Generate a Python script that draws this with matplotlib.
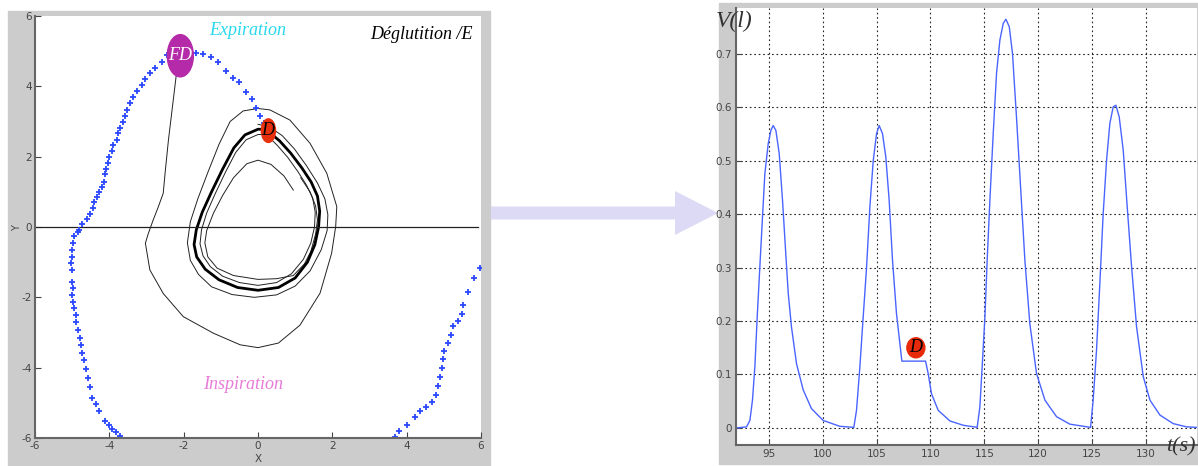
import numpy as np
import matplotlib.pyplot as plt
from matplotlib.patches import Rectangle, Ellipse, FancyArrow

plt.rcParams['axes.unicode_minus'] = False
plt.rcParams['font.family'] = ['Liberation Sans Narrow', 'DejaVu Sans']

# ---- left panel: phase plane ----
# blue "+" points (left and right branches)
pts_left_x = [-3.71, -3.82, -3.92, -4.0, -4.11, -4.27, -4.37, -4.47, -4.52, -4.57, -4.62, -4.67,
              -4.73, -4.75, -4.80, -4.83, -4.90, -4.90, -4.94, -4.99, -5.0, -4.99, -5.0, -5.01,
              -5.03, -5.01, -5.0, -4.99, -4.94, -4.83, -4.81, -4.74, -4.61, -4.52, -4.45, -4.40,
              -4.34, -4.27, -4.21, -4.14, -4.12, -4.09, -4.03, -4.0, -3.94, -3.89, -3.80, -3.76,
              -3.71, -3.64, -3.58, -3.53, -3.44, -3.35, -3.26, -3.13, -3.04, -2.91, -2.77, -2.59,
              -2.46, -2.28, -2.05, -1.87, -1.68, -1.49, -1.27, -1.07, -0.86, -0.66, -0.50, -0.33,
              -0.17, -0.05, 0.06, 0.16]
pts_left_y = [-5.94, -5.84, -5.73, -5.63, -5.52, -5.23, -5.04, -4.85, -4.54, -4.30, -4.05, -3.78,
              -3.57, -3.36, -3.15, -2.93, -2.71, -2.50, -2.31, -2.14, -1.93, -1.74, -1.55, -1.22,
              -1.03, -0.84, -0.65, -0.45, -0.26, -0.13, -0.08, 0.09, 0.23, 0.37, 0.53, 0.70,
              0.86, 1.0, 1.15, 1.29, 1.51, 1.65, 1.81, 2.0, 2.16, 2.33, 2.47, 2.66,
              2.82, 3.0, 3.16, 3.33, 3.52, 3.69, 3.88, 4.04, 4.21, 4.37, 4.51, 4.70,
              4.89, 4.94, 4.96, 4.99, 4.94, 4.91, 4.82, 4.68, 4.44, 4.23, 4.13, 3.85,
              3.64, 3.37, 3.16, 2.95]
pts_right_x = [3.69, 3.80, 4.02, 4.22, 4.36, 4.52, 4.67, 4.79, 4.85, 4.91, 4.95, 4.98, 5.01,
               5.12, 5.18, 5.24, 5.39, 5.48, 5.52, 5.66, 5.81, 5.97]
pts_right_y = [-5.96, -5.80, -5.63, -5.41, -5.22, -5.11, -4.99, -4.78, -4.52, -4.27, -4.02, -3.76,
               -3.52, -3.31, -3.07, -2.81, -2.67, -2.47, -2.23, -1.86, -1.44, -1.17]

# trajectory from FD down and around
big_x = [-2.12, -2.14, -2.28, -2.41, -2.50, -2.55, -2.68, -2.82, -2.95, -3.03, -2.91, -2.55,
         -2.01, -1.20, -0.48, 0.0, 0.55, 1.13, 1.67, 1.98, 2.09, 2.12, 1.85, 1.40, 0.86, 0.32,
         0.0, -0.40, -0.75, -1.05, -1.35, -1.62, -1.82, -1.9, -1.82, -1.6, -1.25, -0.7, -0.1,
         0.5, 1.0, 1.4, 1.7, 1.86, 1.88, 1.8, 1.6, 1.3, 0.98, 0.65, 0.3, 0.0]
big_y = [4.94, 4.84, 3.61, 2.47, 1.53, 0.96, 0.58, 0.20, -0.18, -0.46, -1.22, -1.89,
         -2.55, -3.02, -3.35, -3.43, -3.30, -2.79, -1.88, -0.75, 0.01, 0.58, 1.53, 2.38, 3.04, 3.33,
         3.37, 3.3, 3.0, 2.35, 1.55, 0.8, 0.15, -0.45, -0.95, -1.35, -1.7, -1.92, -2.0,
         -1.93, -1.68, -1.25, -0.65, -0.1, 0.35, 0.8, 1.25, 1.75, 2.22, 2.6, 2.85, 2.92]

# limit cycle (thick)
ring_x = [0.25, 0.0, -0.35, -0.65, -0.95, -1.25, -1.5, -1.66, -1.72, -1.65, -1.42, -1.05, -0.55,
          0.0, 0.55, 1.0, 1.33, 1.53, 1.63, 1.66, 1.6, 1.43, 1.18, 0.88, 0.58, 0.32, 0.25]
ring_y = [2.78, 2.78, 2.62, 2.25, 1.65, 1.0, 0.42, -0.08, -0.5, -0.85, -1.2, -1.5, -1.72,
          -1.8, -1.72, -1.45, -1.0, -0.5, 0.0, 0.45, 0.88, 1.28, 1.68, 2.1, 2.45, 2.68, 2.78]

# ring just inside
mid_x = [0.2, 0.0, -0.32, -0.6, -0.88, -1.15, -1.38, -1.52, -1.56, -1.48, -1.28, -0.95, -0.5,
         0.0, 0.5, 0.9, 1.22, 1.42, 1.52, 1.54, 1.47, 1.3, 1.07, 0.8, 0.52, 0.3, 0.2]
mid_y = [2.63, 2.63, 2.48, 2.12, 1.55, 0.95, 0.4, -0.08, -0.48, -0.82, -1.13, -1.4, -1.58,
         -1.66, -1.58, -1.33, -0.92, -0.46, 0.0, 0.42, 0.83, 1.2, 1.58, 1.98, 2.32, 2.55, 2.63]

# inner spiral
spiral_x = [0.95, 0.7, 0.35, 0.0, -0.3, -0.66, -0.95, -1.2, -1.38, -1.43, -1.35, -1.1, -0.66,
            0.0, 0.5, 0.95, 1.25, 1.42, 1.55, 1.6, 1.55, 1.4, 1.15]
spiral_y = [1.05, 1.45, 1.78, 1.9, 1.8, 1.4, 0.9, 0.39, -0.1, -0.45, -0.85, -1.17, -1.38,
            -1.49, -1.47, -1.38, -1.05, -0.7, -0.2, 0.2, 0.6, 1.0, 1.4]

# ---- right panel: volume ----
t = [92.0, 92.93, 93.24, 93.48, 93.70, 93.92, 94.16, 94.41, 94.63, 94.94, 95.19, 95.40, 95.65,
     95.96, 96.27, 96.55, 96.80, 97.10, 97.57, 98.19, 98.96, 100.04, 101.59, 102.89,
     103.14, 103.45, 103.76, 104.07, 104.38, 104.69, 105.0, 105.24, 105.55, 105.86, 106.17,
     106.48, 106.85, 107.35, 109.55, 109.79, 110.10, 110.72, 111.81, 113.04, 114.34,
     114.59, 114.84, 115.06, 115.27, 115.52, 115.83, 116.14, 116.45, 116.76, 117.01, 117.32,
     117.62, 117.99, 118.37, 118.77, 119.23, 119.85, 120.63, 121.71, 122.95, 124.87,
     125.11, 125.42, 125.73, 126.04, 126.35, 126.66, 126.97, 127.22, 127.53, 127.90, 128.27,
     128.68, 129.14, 129.76, 130.38, 131.31, 132.54, 133.78, 134.7]
vol = [0.0, 0.002, 0.014, 0.052, 0.114, 0.208, 0.30, 0.395, 0.476, 0.532, 0.557, 0.566, 0.557,
       0.514, 0.426, 0.333, 0.252, 0.189, 0.120, 0.071, 0.036, 0.014, 0.003, 0.001,
       0.033, 0.114, 0.208, 0.30, 0.414, 0.50, 0.551, 0.566, 0.551, 0.507, 0.426,
       0.314, 0.214, 0.125, 0.125, 0.102, 0.064, 0.033, 0.013, 0.005, 0.001,
       0.039, 0.127, 0.208, 0.314, 0.426, 0.551, 0.664, 0.726, 0.757, 0.765, 0.751,
       0.701, 0.582, 0.451, 0.314, 0.195, 0.102, 0.052, 0.021, 0.007, 0.001,
       0.052, 0.145, 0.27, 0.401, 0.50, 0.57, 0.601, 0.604, 0.582, 0.52, 0.414,
       0.301, 0.189, 0.096, 0.052, 0.024, 0.008, 0.002, 0.001]
t_ticks = [95, 100, 105, 110, 115, 120, 125, 130]
v_ticks = [0, 0.1, 0.2, 0.3, 0.4, 0.5, 0.6, 0.7]
v_labels = ['0', '0.1', '0.2', '0.3', '0.4', '0.5', '0.6', '0.7']

W, H = 1198, 466
fig = plt.figure(figsize=(W / 100, H / 100), dpi=100)
grey = '#cccccc'
serif_it = dict(family='Liberation Serif', style='italic')

# grey panels (behind the axes)
fig.patches.append(Rectangle((8 / W, 0), 482 / W, 455 / H, transform=fig.transFigure,
                             color=grey, zorder=-10))
fig.patches.append(Rectangle((719 / W, 2 / H), 479 / W, 461 / H, transform=fig.transFigure,
                             color=grey, zorder=-10))

# arrow
fig.patches.append(FancyArrow(491 / W, 253 / H, 227 / W, 0, width=13 / H, head_width=44 / H,
                              head_length=43 / W, length_includes_head=True,
                              transform=fig.transFigure, color='#dcdaf5', lw=0, zorder=-5))

# left axes
ax1 = fig.add_axes([35 / W, 28 / H, 446 / W, 422 / H])
ax1.set_xlim(-6, 6)
ax1.set_ylim(-6, 6)
ax1.plot(big_x, big_y, color='#222222', lw=0.7)
ax1.plot(mid_x, mid_y, color='#222222', lw=0.7)
ax1.plot(spiral_x, spiral_y, color='#222222', lw=0.7)
ax1.plot(ring_x, ring_y, color='black', lw=2.0)
ax1.plot([-6, 5.92], [0, 0], color='#222222', lw=0.9)
ax1.plot(pts_left_x, pts_left_y, ls='none', marker='+', ms=5, mew=1.3, color='#2a48ff')
ax1.plot(pts_right_x, pts_right_y, ls='none', marker='+', ms=5, mew=1.3, color='#2a48ff')
ax1.add_patch(Ellipse((-2.09, 4.87), 0.70, 1.2, color='#b52aa9', zorder=4))
ax1.text(-2.09, 4.87, 'FD', color='white', fontsize=13, ha='center', va='center', zorder=5,
         **serif_it)
ax1.add_patch(Ellipse((0.28, 2.74), 0.38, 0.67, color='#e8300c', zorder=4))
ax1.text(0.26, 2.74, 'D', color='black', fontsize=13, ha='center', va='center', zorder=5,
         **serif_it)
ax1.text(-0.27, 5.6, 'Expiration', color='#28d8ee', fontsize=13, ha='center', va='center',
         **serif_it)
ax1.text(-0.40, -4.49, 'Inspiration', color='#e87ad8', fontsize=13, ha='center', va='center',
         **serif_it)
ax1.text(5.78, 5.46, 'Déglutition /E', color='black', fontsize=13, ha='right', va='center',
         **serif_it)
ax1.set_xticks([-6, -4, -2, 0, 2, 4, 6])
ax1.set_yticks([-6, -4, -2, 0, 2, 4, 6])
ax1.tick_params(direction='in', length=4, labelsize=7.5, colors='#444444', pad=2)
for s in ['top', 'right']:
    ax1.spines[s].set_visible(False)
for s in ['left', 'bottom']:
    ax1.spines[s].set_color('#666666')
    ax1.spines[s].set_linewidth(1.5)
fig.text(17 / W, 1 - 228 / H, 'Y', rotation=90, fontsize=7, color='#444444',
         ha='center', va='center')
fig.text(258 / W, 1 - 459 / H, 'X', fontsize=7.5, color='#444444', ha='center', va='center')

# right axes
ax2 = fig.add_axes([736 / W, 21 / H, 461 / W, 437 / H])
ax2.plot(t, vol, color='#4a64ff', lw=1.0)
ax2.set_xlim(91.95, 134.75)
ax2.set_ylim(-0.032, 0.786)
ax2.set_xticks(t_ticks)
ax2.set_yticks(v_ticks)
ax2.set_yticklabels(v_labels)
ax2.grid(True, color='#222222', ls=(0, (1.5, 2.5)), lw=0.8)
ax2.tick_params(direction='in', length=4, labelsize=7.5, colors='#444444', pad=3)
for s in ['top', 'right']:
    ax2.spines[s].set_visible(False)
for s in ['left', 'bottom']:
    ax2.spines[s].set_color('#666666')
    ax2.spines[s].set_linewidth(1.5)
ax2.add_patch(Ellipse((108.65, 0.150), 1.67, 0.0375, color='#e82a0a', zorder=4))
ax2.text(108.65, 0.150, 'D', color='black', fontsize=13, ha='center', va='center', zorder=5,
         **serif_it)
fig.text(734 / W, 1 - 21 / H, 'V(l)', fontsize=17, color='#333333', ha='center', va='center',
         **serif_it)
fig.text(1181 / W, 1 - 447 / H, 't(s)', fontsize=16, color='#333333', ha='center', va='center',
         **serif_it)

fig.savefig('out.png', dpi=100)
